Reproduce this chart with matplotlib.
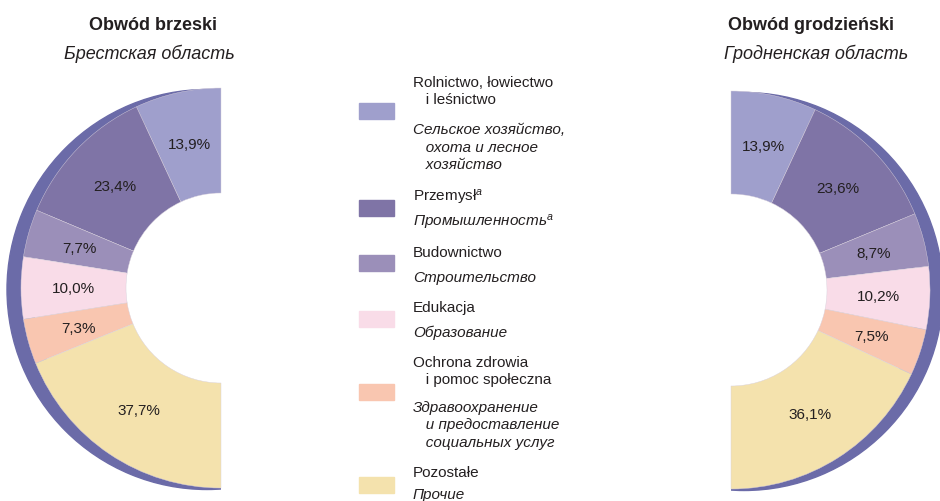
import matplotlib
matplotlib.use('Agg')
import matplotlib.pyplot as plt
import matplotlib.patches as mpatches
from matplotlib import font_manager
import numpy as np

# --- data ---
sectors_pl = ['Rolnictwo, łowiectwo\n   i leśnictwo', 'Przemysł$^{a}$', 'Budownictwo',
              'Edukacja', 'Ochrona zdrowia\n   i pomoc społeczna', 'Pozostałe']
sectors_ru = ['Сельское хозяйство,\n   охота и лесное\n   хозяйство', 'Промышленность$^{a}$',
              'Строительство', 'Образование',
              'Здравоохранение\n   и предоставление\n   социальных услуг', 'Прочие']
brest = [13.9, 23.4, 7.7, 10.0, 7.3, 37.7]
grodno = [13.9, 23.6, 8.7, 10.2, 7.5, 36.1]
colors = ['#9f9fcc', '#7f74a6', '#9b8fb9', '#f9dce8', '#f9c6b0', '#f4e2ad']
rim_color = '#6b6ba8'

names = {f.name for f in font_manager.fontManager.ttflist}
narrow = 'Liberation Sans Narrow' if 'Liberation Sans Narrow' in names else 'Liberation Sans'
plt.rcParams['font.family'] = [narrow, 'DejaVu Sans']
plt.rcParams['mathtext.fontset'] = 'custom'
plt.rcParams['mathtext.rm'] = narrow
plt.rcParams['mathtext.it'] = narrow + ':italic'

W, H = 940, 502
fig = plt.figure(figsize=(W / 100, H / 100), dpi=100)
ax = fig.add_axes([0, 0, 1, 1])
text_color = '#231f20'


def half_donut(cx, cy, r_out, r_in, values, left, shadow_dx):
    # shadow rim: offset ring, clipped to the half that the donut covers
    rim = mpatches.Wedge((cx + shadow_dx, cy - 1.5), r_out, 0, 360,
                         width=25, color=rim_color, zorder=1)
    ax.add_patch(rim)
    if left:
        clip = mpatches.Rectangle((cx - 300, cy - 300), 300, 600, transform=ax.transData)
    else:
        clip = mpatches.Rectangle((cx, cy - 300), 300, 600, transform=ax.transData)
    rim.set_clip_path(clip)

    fracs = [v / 200 for v in values]
    wedges, _ = ax.pie(fracs, colors=colors, startangle=90, counterclock=left,
                       normalize=False, center=(cx, cy), radius=r_out,
                       wedgeprops=dict(width=r_out - r_in, linewidth=0.3, edgecolor='#d8d0dc'),
                       frame=True)
    for w in wedges:
        w.set_zorder(2)
    r_mid = (r_out + r_in) / 2
    for w, v in zip(wedges, values):
        ang = np.deg2rad((w.theta1 + w.theta2) / 2)
        ax.text(cx + r_mid * np.cos(ang), cy + r_mid * np.sin(ang),
                f'{v:.1f}%'.replace('.', ','), ha='center', va='center',
                fontsize=11, color=text_color, zorder=3)


half_donut(221, H - 289, 200, 95, brest, True, -14)
half_donut(731, H - 291, 199, 96, grodno, False, 13)

# titles
ax.text(153, H - 25, 'Obwód brzeski', ha='center', va='center', fontsize=13,
        fontweight='bold', color=text_color)
ax.text(149, H - 54, 'Брестская область', ha='center', va='center', fontsize=13,
        style='italic', color=text_color)
ax.text(811, H - 25, 'Obwód grodzieński', ha='center', va='center', fontsize=13,
        fontweight='bold', color=text_color)
ax.text(816, H - 54, 'Гродненская область', ha='center', va='center', fontsize=13,
        style='italic', color=text_color)

# legend
box_y = [112, 209, 264, 320, 393, 486]
pl_y = [83, 197, 253, 308, 363, 473]
ru_y = [130, 222, 278, 333, 408, 495]
line_h = 17.5
for i in range(len(colors)):
    ax.add_patch(mpatches.Rectangle((359, H - box_y[i] - 8), 35, 16,
                                    color=colors[i], zorder=2))
    for j, line in enumerate(sectors_pl[i].split('\n')):
        ax.text(413, H - pl_y[i] - j * line_h, line, ha='left', va='center',
                fontsize=11, color=text_color)
    for j, line in enumerate(sectors_ru[i].split('\n')):
        ax.text(413, H - ru_y[i] - j * line_h, line, ha='left', va='center',
                fontsize=11, style='italic', color=text_color)

ax.set_xlim(0, W)
ax.set_ylim(0, H)
ax.set_aspect('equal')
ax.axis('off')

fig.savefig('out.png', dpi=100)
